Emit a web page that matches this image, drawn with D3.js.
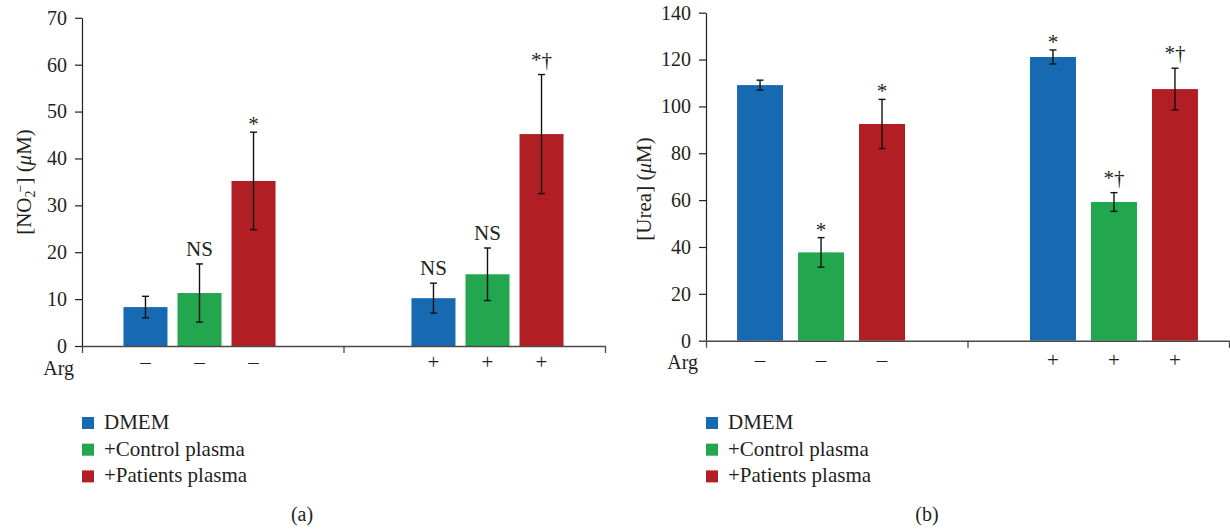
<!DOCTYPE html>
<html><head><meta charset="utf-8">
<script src="https://cdn.jsdelivr.net/npm/d3@7"></script>
<style>
body{margin:0;background:#fff}
svg{display:block}
text{font-family:"Liberation Serif","Times New Roman",serif;fill:#231f20}
</style>
</head><body>
<svg id="chart" width="1230" height="531"></svg>
<script>
// ---------- data ----------
const groups = ["noArg", "withArg"];
const argSigns = ["\u2013", "+"];
const series = ["DMEM", "+Control plasma", "+Patients plasma"];
const colors = ["#176ab2", "#22a74f", "#b11f24"];

// panel (a): nitrite
const nitriteMean = [[8.3, 11.3, 35.2], [10.2, 15.3, 45.2]];
const nitriteErr  = [[2.3, 6.2, 10.4], [3.2, 5.6, 12.7]];
const nitriteMarks = [["", "NS", "*"], ["NS", "NS", "*\u2020"]];
const nitriteTicks = [0, 10, 20, 30, 40, 50, 60, 70];

// panel (b): urea
const ureaMean = [[109.1, 37.7, 92.5], [121.1, 59.2, 107.4]];
const ureaErr  = [[2.1, 6.3, 10.5], [3.0, 4.0, 8.9]];
const ureaMarks = [["", "*", "*"], ["*", "*\u2020", "*\u2020"]];
const ureaTicks = [0, 20, 40, 60, 80, 100, 120, 140];

const captions = ["(a)", "(b)"];

// ---------- drawing ----------
const svg = d3.select("#chart");
const FONT = '"Liberation Serif","Times New Roman",serif';

function drawPanel(cfg) {
  const g = svg.append("g");
  const y = d3.scaleLinear().domain([0, cfg.max]).range([cfg.yBot, cfg.yTop]);
  const x0 = d3.scaleBand().domain(groups).range([cfg.xL, cfg.xR])
    .paddingInner(cfg.pi).paddingOuter(cfg.po);
  const x1 = d3.scaleBand().domain(series).range([0, x0.bandwidth()])
    .paddingInner(cfg.innerPi).paddingOuter(0);

  const rows = [];
  groups.forEach((gr, gi) => series.forEach((s, si) => rows.push({
    gr, gi, s, si, v: cfg.mean[gi][si], e: cfg.err[gi][si], m: cfg.marks[gi][si]
  })));

  // y axis
  const ya = g.append("g").attr("transform", `translate(${cfg.xL},0)`)
    .call(d3.axisLeft(y).tickValues(cfg.ticks).tickSize(7).tickSizeOuter(0).tickPadding(8));
  ya.attr("font-family", FONT).attr("font-size", 20);
  ya.select(".domain").attr("stroke", "#231f20").attr("stroke-width", 1.2);
  ya.selectAll(".tick line").attr("stroke", "#231f20").attr("stroke-width", 1.2);
  ya.selectAll(".tick text").style("font-family", FONT)
    .style("font-size", "20px").attr("fill", "#231f20");

  // bars
  g.selectAll("rect.bar").data(rows).enter().append("rect")
    .attr("class", "bar")
    .attr("x", d => x0(d.gr) + x1(d.s))
    .attr("width", x1.bandwidth())
    .attr("y", d => y(d.v))
    .attr("height", d => y(0) - y(d.v))
    .attr("fill", d => colors[d.si]);

  // error bars
  const cx = d => x0(d.gr) + x1(d.s) + x1.bandwidth() / 2;
  const eb = g.selectAll("g.err").data(rows).enter().append("g")
    .attr("stroke", "#111").attr("stroke-width", 1.4);
  eb.append("line").attr("x1", cx).attr("x2", cx)
    .attr("y1", d => y(d.v + d.e)).attr("y2", d => y(d.v - d.e));
  eb.append("line").attr("x1", d => cx(d) - 3.5).attr("x2", d => cx(d) + 3.5)
    .attr("y1", d => y(d.v + d.e)).attr("y2", d => y(d.v + d.e));
  eb.append("line").attr("x1", d => cx(d) - 3.5).attr("x2", d => cx(d) + 3.5)
    .attr("y1", d => y(d.v - d.e)).attr("y2", d => y(d.v - d.e));

  // significance marks
  g.selectAll("text.mark").data(rows.filter(d => d.m)).enter().append("text")
    .attr("class", "mark")
    .attr("x", cx)
    .attr("y", d => y(d.v + d.e) - (d.m === "*" ? 1 : 8))
    .attr("text-anchor", "middle")
    .style("font-size", "21px")
    .text(d => d.m);

  // x axis (group boundaries)
  const xb = d3.scaleLinear().domain([0, groups.length]).range([cfg.xL, cfg.xR]);
  const xa = g.append("g").attr("transform", `translate(0,${cfg.yBot})`)
    .call(d3.axisBottom(xb).tickValues(d3.range(groups.length + 1))
      .tickFormat("").tickSize(7).tickSizeOuter(0));
  xa.select(".domain").attr("stroke", "#4a4a4a").attr("stroke-width", 1.5);
  xa.selectAll(".tick line").attr("stroke", "#4a4a4a").attr("stroke-width", 1.3);

  // Arg row
  g.append("text").attr("x", cfg.xL - 8).attr("y", cfg.argY)
    .attr("text-anchor", "end").style("font-size", "20px").text("Arg");
  g.selectAll("text.sign").data(rows).enter().append("text")
    .attr("class", "sign")
    .attr("x", cx).attr("y", cfg.signY)
    .attr("text-anchor", "middle").style("font-size", "21px")
    .text(d => argSigns[d.gi]);

  // y title
  const t = g.append("text")
    .attr("transform", `translate(${cfg.titleX},${cfg.titleY}) rotate(-90)`)
    .attr("text-anchor", "middle").style("font-size", "21px");
  cfg.title(t);

  // legend
  const lg = g.append("g").attr("transform", `translate(${cfg.xL},417)`);
  const li = lg.selectAll("g").data(series).enter().append("g")
    .attr("transform", (d, i) => `translate(0,${i * 26.7})`);
  li.append("rect").attr("width", 12).attr("height", 12).attr("fill", (d, i) => colors[i]);
  li.append("text").attr("x", 22).attr("y", 12).style("font-size", "21px").text(d => d);

  // caption
  g.append("text").attr("x", cfg.capX).attr("y", 521)
    .attr("text-anchor", "middle").style("font-size", "20px").text(cfg.caption);
}

drawPanel({
  xL: 82, xR: 605, yTop: 17.8, yBot: 346, max: 70,
  pi: 0.472, po: 0.144, innerPi: 10 / 54,
  mean: nitriteMean, err: nitriteErr, marks: nitriteMarks, ticks: nitriteTicks,
  argY: 375, signY: 369, titleX: 31, titleY: 182, capX: 302, caption: captions[0],
  title: t => {
    t.append("tspan").text("[NO");
    t.append("tspan").attr("baseline-shift", "-25%").style("font-size", "14px").text("2");
    t.append("tspan").attr("baseline-shift", "45%").attr("dx", -2).style("font-size", "14px").text("\u2212");
    t.append("tspan").text("] (");
    t.append("tspan").style("font-style", "italic").text("\u03bc");
    t.append("tspan").text("M)");
  }
});

drawPanel({
  xL: 706, xR: 1229, yTop: 12.7, yBot: 340.7, max: 140,
  pi: 0.4266, po: 0.106, innerPi: 15 / 61,
  mean: ureaMean, err: ureaErr, marks: ureaMarks, ticks: ureaTicks,
  argY: 369, signY: 367, titleX: 651, titleY: 189, capX: 927, caption: captions[1],
  title: t => {
    t.append("tspan").text("[Urea] (");
    t.append("tspan").style("font-style", "italic").text("\u03bc");
    t.append("tspan").text("M)");
  }
});
</script>
</body></html>
